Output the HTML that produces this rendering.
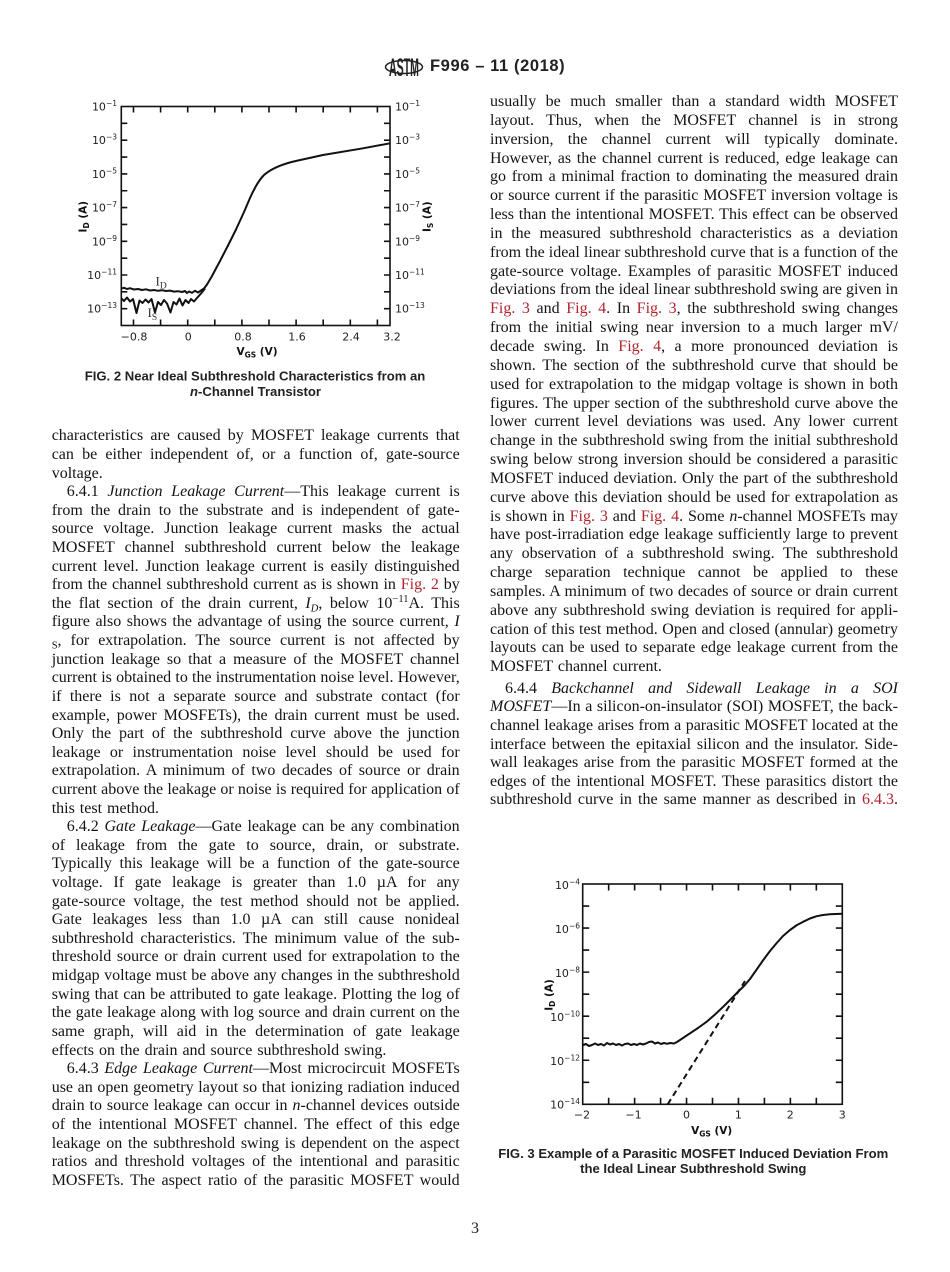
<!DOCTYPE html>
<html><head><meta charset="utf-8">
<style>
body{margin:0;background:#fff}
#pg{position:relative;width:950px;height:1272px;overflow:hidden;background:#fff}
.col{position:absolute;width:408px;font-family:"Liberation Serif",serif;font-size:16px;color:#141414}
.col div{white-space:normal;overflow:visible}
.A div{height:18.62px;line-height:18.62px}
.B div{height:18.85px;line-height:18.85px}
.j{text-align:justify;text-align-last:justify;word-spacing:-2px}
.l{text-align:left;word-spacing:1px}
.in{text-indent:15px}
.r{color:#b0262c}
sup{font-size:10.5px;line-height:0;vertical-align:6px}
sub{font-size:10.5px;line-height:0;vertical-align:-3.5px}
svg{position:absolute;left:0;top:0}
</style></head>
<body><div id="pg">
<svg width="950" height="1272" viewBox="0 0 950 1272">
<!-- Header -->
<g fill="#222">
<ellipse cx="404" cy="67" rx="18.5" ry="6.5" fill="none" stroke="#222" stroke-width="1.5"/>
<text transform="translate(404,76) scale(1,2.0)" text-anchor="middle" font-family="Liberation Sans" font-weight="bold" font-size="12.5" textLength="30" lengthAdjust="spacingAndGlyphs">ASTM</text>
<text x="430" y="71" font-family="Liberation Sans" font-weight="bold" font-size="16.5" letter-spacing="0.6">F996 – 11 (2018)</text>
</g>

<!-- FIG 2 -->
<g stroke="#111" fill="none" stroke-width="1.6">
<rect x="121.3" y="106.5" width="268.7" height="219"/>
<path d="M121.3 123.35h6M121.3 140.2h6M121.3 157.05h6M121.3 173.9h6M121.3 190.75h6M121.3 207.6h6M121.3 224.45h6M121.3 241.3h6M121.3 258.15h6M121.3 275h6M121.3 291.85h6M121.3 308.7h6
M390 123.35h-6M390 140.2h-6M390 157.05h-6M390 173.9h-6M390 190.75h-6M390 207.6h-6M390 224.45h-6M390 241.3h-6M390 258.15h-6M390 275h-6M390 291.85h-6M390 308.7h-6
M133.5 106.5v6M160.6 106.5v6M187.7 106.5v6M214.8 106.5v6M241.9 106.5v6M269 106.5v6M296.1 106.5v6M323.2 106.5v6M350.3 106.5v6M377.4 106.5v6
M133.5 325.5v-6M160.6 325.5v-6M187.7 325.5v-6M214.8 325.5v-6M241.9 325.5v-6M269 325.5v-6M296.1 325.5v-6M323.2 325.5v-6M350.3 325.5v-6M377.4 325.5v-6"/>
</g>
<g stroke="#111" fill="none" stroke-width="2" stroke-linejoin="round">
<path d="M121.5,288.5 L124,287.8 L127,289 L130,288.2 L134,289.5 L138,289 L142,290 L146,289.3 L150,290.5 L154,290 L158,290.8 L162,290.2 L166,291 L170,290.6 L174,291.6 L178,291.2 L182,292 L185,291 L187,293 L189,291.5 L192,292.8 L195,290.8 L198,292.5 L201,290.5 L204,288.5 L207,284.5 L212,276 L220,261 L228,245.5 L236,229.5 L244,212 L250,198 C254,189 258,181 264,175 C272,168 284,163.5 298,160.5 L323,155 L363,148.3 L390,143.3"/>
<path d="M121.5,298.5 L124,301 L127,297.5 L130,301.5 L133,299 L136.5,313 L139.5,300.5 L142.5,303 L145.5,299.5 L148.5,302.5 L151.5,299 L155,312.5 L158,302 L161,305 L164,300 L167,303.5 L170.5,312.5 L173.5,302 L176.5,304.5 L179.5,298.5 L182.5,305.5 L185.5,300 L188.5,303 L191,299 L194,301.5 L197,298 L201,293.5 L205,288.5"/>
</g>
<g font-family="Liberation Serif" font-size="13" fill="#333">
<text x="155.5" y="285.5">I<tspan font-size="9.5" dy="3">D</tspan></text>
<text x="147.5" y="317">I<tspan font-size="9.5" dy="3">S</tspan></text>
</g>
<g font-family="DejaVu Sans" font-size="11" fill="#222">
<g text-anchor="end">
<text x="117" y="110.5">10<tspan font-size="7.5" dy="-4.5">−1</tspan></text>
<text x="117" y="144.2">10<tspan font-size="7.5" dy="-4.5">−3</tspan></text>
<text x="117" y="177.9">10<tspan font-size="7.5" dy="-4.5">−5</tspan></text>
<text x="117" y="211.6">10<tspan font-size="7.5" dy="-4.5">−7</tspan></text>
<text x="117" y="245.3">10<tspan font-size="7.5" dy="-4.5">−9</tspan></text>
<text x="117" y="279">10<tspan font-size="7.5" dy="-4.5">−11</tspan></text>
<text x="117" y="312.7">10<tspan font-size="7.5" dy="-4.5">−13</tspan></text>
</g>
<text x="395" y="110.5">10<tspan font-size="7.5" dy="-4.5">−1</tspan></text>
<text x="395" y="144.2">10<tspan font-size="7.5" dy="-4.5">−3</tspan></text>
<text x="395" y="177.9">10<tspan font-size="7.5" dy="-4.5">−5</tspan></text>
<text x="395" y="211.6">10<tspan font-size="7.5" dy="-4.5">−7</tspan></text>
<text x="395" y="245.3">10<tspan font-size="7.5" dy="-4.5">−9</tspan></text>
<text x="395" y="279">10<tspan font-size="7.5" dy="-4.5">−11</tspan></text>
<text x="395" y="312.7">10<tspan font-size="7.5" dy="-4.5">−13</tspan></text>
<g text-anchor="middle">
<text x="134" y="340.5">−0.8</text>
<text x="188.3" y="340.5">0</text>
<text x="243" y="340.5">0.8</text>
<text x="297" y="340.5">1.6</text>
<text x="351" y="340.5">2.4</text>
<text x="392" y="340.5">3.2</text>
</g>
</g>
<g font-family="DejaVu Sans" font-weight="bold" font-size="10.5" fill="#111" text-anchor="middle">
<text transform="translate(86.7,216.7) rotate(-90)">I<tspan font-size="7.5" dy="2.5">D</tspan><tspan dy="-2.5"> (A)</tspan></text>
<text transform="translate(430.7,216.7) rotate(-90)">I<tspan font-size="7.5" dy="2.5">S</tspan><tspan dy="-2.5"> (A)</tspan></text>
<text x="257" y="355">V<tspan font-size="7.5" dy="2.5">GS</tspan><tspan dy="-2.5"> (V)</tspan></text>
</g>
<g font-family="Liberation Sans" font-weight="bold" font-size="13.1" fill="#222" text-anchor="middle">
<text x="255" y="380.5">FIG. 2 Near Ideal Subthreshold Characteristics from an</text>
<text x="255.5" y="396"><tspan font-style="italic">n</tspan>-Channel Transistor</text>
</g>

<!-- FIG 3 -->
<g stroke="#111" fill="none" stroke-width="1.6">
<rect x="582.7" y="884" width="259.6" height="220.3"/>
<path d="M582.7 906.03h6.5M582.7 928.06h6.5M582.7 950.09h6.5M582.7 972.12h6.5M582.7 994.15h6.5M582.7 1016.18h6.5M582.7 1038.21h6.5M582.7 1060.24h6.5M582.7 1082.27h6.5
M842.3 906.03h-6.5M842.3 928.06h-6.5M842.3 950.09h-6.5M842.3 972.12h-6.5M842.3 994.15h-6.5M842.3 1016.18h-6.5M842.3 1038.21h-6.5M842.3 1060.24h-6.5M842.3 1082.27h-6.5
M608.66 884v6.5M634.62 884v6.5M660.58 884v6.5M686.54 884v6.5M712.5 884v6.5M738.46 884v6.5M764.42 884v6.5M790.38 884v6.5M816.34 884v6.5
M608.66 1104.3v-6.5M634.62 1104.3v-6.5M660.58 1104.3v-6.5M686.54 1104.3v-6.5M712.5 1104.3v-6.5M738.46 1104.3v-6.5M764.42 1104.3v-6.5M790.38 1104.3v-6.5M816.34 1104.3v-6.5"/>
</g>
<g stroke="#111" fill="none" stroke-width="2" stroke-linejoin="round">
<path d="M583,1045 L586,1044 L589,1046 L592,1045 L595,1043.5 L598,1045 L601,1044 L604,1045.5 L607,1043 L610,1044.5 L613,1043.5 L616,1045 L619,1044 L622,1045.5 L625,1044 L628,1043.5 L631,1045 L634,1044 L637,1045 L640,1043.5 L643,1044.5 L646,1043.5 L649,1042 L652,1041.5 L655,1043.5 L658,1042.5 L661,1044 L664,1043 L667,1043.8 L670,1043 L674,1043.5 L677,1042 L683,1038 L690,1033.3 L698,1028 L706.7,1021.7 L715,1014.5 L723.3,1006.7 L731,999 L738.3,991.5 L744,986 L750,979 L756,970.5 L763.3,960 L770,951 L776.7,943 L783,936 L790,930 L797,925 L803.3,921.7 L810,918.5 L816.7,916.2 L823,915 L830,914.2 L842,913.8"/>
<path d="M667.7,1104.3 L745,981" stroke-dasharray="6 4"/>
</g>
<g font-family="DejaVu Sans" font-size="11" fill="#222">
<g text-anchor="end">
<text x="580" y="889">10<tspan font-size="7.5" dy="-4.5">−4</tspan></text>
<text x="580" y="933">10<tspan font-size="7.5" dy="-4.5">−6</tspan></text>
<text x="580" y="977.1">10<tspan font-size="7.5" dy="-4.5">−8</tspan></text>
<text x="580" y="1021.2">10<tspan font-size="7.5" dy="-4.5">−10</tspan></text>
<text x="580" y="1065.2">10<tspan font-size="7.5" dy="-4.5">−12</tspan></text>
<text x="580" y="1108.5">10<tspan font-size="7.5" dy="-4.5">−14</tspan></text>
</g>
<g text-anchor="middle">
<text x="582" y="1118.5">−2</text>
<text x="633.5" y="1118.5">−1</text>
<text x="686.5" y="1118.5">0</text>
<text x="738.4" y="1118.5">1</text>
<text x="790.3" y="1118.5">2</text>
<text x="842.3" y="1118.5">3</text>
</g>
</g>
<g font-family="DejaVu Sans" font-weight="bold" font-size="10.5" fill="#111" text-anchor="middle">
<text transform="translate(552.3,995) rotate(-90)">I<tspan font-size="7.5" dy="2.5">D</tspan><tspan dy="-2.5"> (A)</tspan></text>
<text x="711.7" y="1134">V<tspan font-size="7.5" dy="2.5">GS</tspan><tspan dy="-2.5"> (V)</tspan></text>
</g>
<g font-family="Liberation Sans" font-weight="bold" font-size="13.1" fill="#222" text-anchor="middle">
<text x="693.3" y="1157.8">FIG. 3 Example of a Parasitic MOSFET Induced Deviation From</text>
<text x="693.3" y="1172.8">the Ideal Linear Subthreshold Swing</text>
</g>

<text x="475" y="1233" text-anchor="middle" font-family="Liberation Serif" font-size="16" fill="#222">3</text>
</svg>

<div class="col A" style="left:51.7px;top:427.4px">
<div class="j">characteristics are caused by MOSFET leakage currents that</div>
<div class="j">can be either independent of, or a function of, gate-source</div>
<div class="l">voltage.</div>
<div class="j in">6.4.1 <i>Junction Leakage Current</i>—This leakage current is</div>
<div class="j">from the drain to the substrate and is independent of gate-</div>
<div class="j">source voltage. Junction leakage current masks the actual</div>
<div class="j">MOSFET channel subthreshold current below the leakage</div>
<div class="j">current level. Junction leakage current is easily distinguished</div>
<div class="j">from the channel subthreshold current as is shown in <span class="r">Fig. 2</span> by</div>
<div class="j">the flat section of the drain current, <i>I<sub>D</sub></i>, below 10<sup>−11</sup>A. This</div>
<div class="j">figure also shows the advantage of using the source current, <i>I</i></div>
<div class="j"><sub>S</sub>, for extrapolation. The source current is not affected by</div>
<div class="j">junction leakage so that a measure of the MOSFET channel</div>
<div class="j">current is obtained to the instrumentation noise level. However,</div>
<div class="j">if there is not a separate source and substrate contact (for</div>
<div class="j">example, power MOSFETs), the drain current must be used.</div>
<div class="j">Only the part of the subthreshold curve above the junction</div>
<div class="j">leakage or instrumentation noise level should be used for</div>
<div class="j">extrapolation. A minimum of two decades of source or drain</div>
<div class="j">current above the leakage or noise is required for application of</div>
<div class="l">this test method.</div>
<div class="j in">6.4.2 <i>Gate Leakage</i>—Gate leakage can be any combination</div>
<div class="j">of leakage from the gate to source, drain, or substrate.</div>
<div class="j">Typically this leakage will be a function of the gate-source</div>
<div class="j">voltage. If gate leakage is greater than 1.0 µA for any</div>
<div class="j">gate-source voltage, the test method should not be applied.</div>
<div class="j">Gate leakages less than 1.0 µA can still cause nonideal</div>
<div class="j">subthreshold characteristics. The minimum value of the sub-</div>
<div class="j">threshold source or drain current used for extrapolation to the</div>
<div class="j">midgap voltage must be above any changes in the subthreshold</div>
<div class="j">swing that can be attributed to gate leakage. Plotting the log of</div>
<div class="j">the gate leakage along with log source and drain current on the</div>
<div class="j">same graph, will aid in the determination of gate leakage</div>
<div class="l">effects on the drain and source subthreshold swing.</div>
<div class="j in">6.4.3 <i>Edge Leakage Current</i>—Most microcircuit MOSFETs</div>
<div class="j">use an open geometry layout so that ionizing radiation induced</div>
<div class="j">drain to source leakage can occur in <i>n</i>-channel devices outside</div>
<div class="j">of the intentional MOSFET channel. The effect of this edge</div>
<div class="j">leakage on the subthreshold swing is dependent on the aspect</div>
<div class="j">ratios and threshold voltages of the intentional and parasitic</div>
<div class="j">MOSFETs. The aspect ratio of the parasitic MOSFET would</div>
</div>

<div class="col B" style="left:490px;top:93px">
<div class="j">usually be much smaller than a standard width MOSFET</div>
<div class="j">layout. Thus, when the MOSFET channel is in strong</div>
<div class="j">inversion, the channel current will typically dominate.</div>
<div class="j">However, as the channel current is reduced, edge leakage can</div>
<div class="j">go from a minimal fraction to dominating the measured drain</div>
<div class="j">or source current if the parasitic MOSFET inversion voltage is</div>
<div class="j">less than the intentional MOSFET. This effect can be observed</div>
<div class="j">in the measured subthreshold characteristics as a deviation</div>
<div class="j">from the ideal linear subthreshold curve that is a function of the</div>
<div class="j">gate-source voltage. Examples of parasitic MOSFET induced</div>
<div class="j">deviations from the ideal linear subthreshold swing are given in</div>
<div class="j"><span class="r">Fig. 3</span> and <span class="r">Fig. 4</span>. In <span class="r">Fig. 3</span>, the subthreshold swing changes</div>
<div class="j">from the initial swing near inversion to a much larger mV/</div>
<div class="j">decade swing. In <span class="r">Fig. 4</span>, a more pronounced deviation is</div>
<div class="j">shown. The section of the subthreshold curve that should be</div>
<div class="j">used for extrapolation to the midgap voltage is shown in both</div>
<div class="j">figures. The upper section of the subthreshold curve above the</div>
<div class="j">lower current level deviations was used. Any lower current</div>
<div class="j">change in the subthreshold swing from the initial subthreshold</div>
<div class="j">swing below strong inversion should be considered a parasitic</div>
<div class="j">MOSFET induced deviation. Only the part of the subthreshold</div>
<div class="j">curve above this deviation should be used for extrapolation as</div>
<div class="j">is shown in <span class="r">Fig. 3</span> and <span class="r">Fig. 4</span>. Some <i>n</i>-channel MOSFETs may</div>
<div class="j">have post-irradiation edge leakage sufficiently large to prevent</div>
<div class="j">any observation of a subthreshold swing. The subthreshold</div>
<div class="j">charge separation technique cannot be applied to these</div>
<div class="j">samples. A minimum of two decades of source or drain current</div>
<div class="j">above any subthreshold swing deviation is required for appli-</div>
<div class="j">cation of this test method. Open and closed (annular) geometry</div>
<div class="j">layouts can be used to separate edge leakage current from the</div>
<div class="l">MOSFET channel current.</div>
</div>

<div class="col A" style="left:490px;top:679.7px">
<div class="j in">6.4.4 <i>Backchannel and Sidewall Leakage in a SOI</i></div>
<div class="j"><i>MOSFET</i>—In a silicon-on-insulator (SOI) MOSFET, the back-</div>
<div class="j">channel leakage arises from a parasitic MOSFET located at the</div>
<div class="j">interface between the epitaxial silicon and the insulator. Side-</div>
<div class="j">wall leakages arise from the parasitic MOSFET formed at the</div>
<div class="j">edges of the intentional MOSFET. These parasitics distort the</div>
<div class="j">subthreshold curve in the same manner as described in <span class="r">6.4.3</span>.</div>
</div>

</div></body></html>
